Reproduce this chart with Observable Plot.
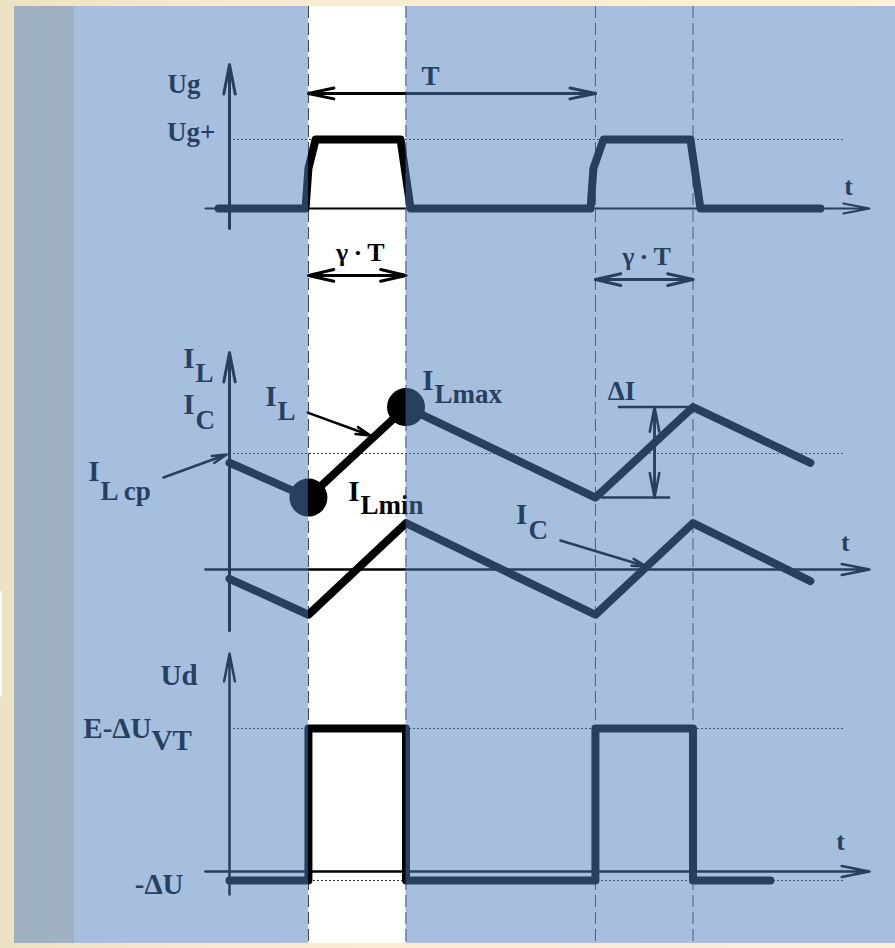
<!DOCTYPE html>
<html><head><meta charset="utf-8">
<script src="https://cdn.jsdelivr.net/npm/d3@7"></script>
<script src="https://cdn.jsdelivr.net/npm/@observablehq/plot@0.6"></script>
<style>
html,body{margin:0;padding:0;}
body{width:895px;height:948px;overflow:hidden;background:linear-gradient(to right,#ede1c3 0%,#f7eacf 25%,#fdf0da 100%);}
#chart svg{display:block;}
</style></head><body><div id="chart"></div>
<script>
// ---- time axis: units of the switching period T ----
const T = 1;
const switchEdges = [0.275, 0.615, 1.275, 1.615];   // turn-on / turn-off instants
const onStart = 0.275, onEnd = 0.615;               // first conduction interval (γ·T)

// ---- gate voltage Ug (Ug+ = 1) ----
const ugTime  = [-0.038, 0.265, 0.275, 0.300, 0.596, 0.631, 1.258, 1.268, 1.303, 1.606, 1.641, 2.059];
const ugValue = [0, 0, 0.58, 1, 1, 0, 0, 0.58, 1, 1, 0, 0];

// ---- inductor current IL and capacitor current IC (IL cp = 1) ----
const iTime   = [0, 0.275, 0.615, 1.275, 1.615, 2.024];
const ilValue = [0.92, 0.62, 1.40, 0.62, 1.40, 0.92];
const icValue = [-0.08, -0.39, 0.40, -0.39, 0.40, -0.10];
const ilCp = 1, ilMax = 1.40, ilMin = 0.62;

// ---- diode voltage Ud (E-ΔUVT = 1) ----
const udTime  = [0, 0.275, 0.275, 0.615, 0.615, 1.275, 1.275, 1.615, 1.615, 1.885];
const udValue = [-0.063, -0.063, 1, 1, -0.063, -0.063, 1, 1, -0.063, -0.063];
const udHigh = 1, udLow = -0.063;

// ---- framing of the background ----
const panelLeft = -0.749, whiteLeft = -0.540, rightEdge = 2.3206, levelEnd = 2.146;
const axisStart = -0.084, axisEnd = 2.230;

const ugData = ugTime.map((t, i) => ({t, v: ugValue[i]}));
const ilData = iTime.map((t, i) => ({t, v: ilValue[i]}));
const icData = iTime.map((t, i) => ({t, v: icValue[i]}));
const udData = udTime.map((t, i) => ({t, v: udValue[i]}));

const FONT = "Liberation Serif, Times New Roman, serif";
const txt = (data, o = {}) => Plot.text(data, {x: "t", y: "v", text: "s", fontFamily: FONT, fontWeight: "bold", fill: "black", ...o});
const arr = (data, o = {}) => Plot.arrow(data, {x1: "a", x2: "b", y1: "ya", y2: "yb", stroke: "black", ...o});
const dbl = (a, b, y) => [{a, b, ya: y, yb: y}, {a: b, b: a, ya: y, yb: y}];
const dblV = (x, y1, y2) => [{a: x, b: x, ya: y1, yb: y2}, {a: x, b: x, ya: y2, yb: y1}];

function panel({height, marginTop = 0, marginBottom = 0, yRange, marks, sliver = null}) {
  return Plot.plot({
    width: 895, height, marginTop, marginBottom, marginLeft: 0, marginRight: 0,
    x: {domain: [0, T], range: [229, 516], axis: null},
    y: {domain: [0, 1], range: yRange, axis: null},
    style: {background: "transparent"},
    marks: [
      Plot.rect([{x1: whiteLeft, x2: rightEdge}], {x1: "x1", x2: "x2", fill: "white"}),
      Plot.ruleX(switchEdges, {stroke: "#3c3c3c", strokeWidth: 1, strokeDasharray: "12,5"}),
      ...marks,
      Plot.rect([{x1: panelLeft, x2: onStart}, {x1: onEnd, x2: rightEdge}],
        {x1: "x1", x2: "x2", fill: "rgb(78,127,190)", fillOpacity: 0.5}),
      ...(sliver ? [Plot.rect([{x1: -0.798, x2: -0.791, ...sliver}], {x1: "x1", x2: "x2", y1: "y1", y2: "y2", fill: "#f4fafc"})] : [])
    ]
  });
}

const levelStyle = {stroke: "#333", strokeWidth: 1, strokeDasharray: "2,2"};
const lineStyle = {x: "t", y: "v", stroke: "black", strokeWidth: 8, strokeLinejoin: "round", strokeLinecap: "round"};
const gammaT = "γ\u2009·\u2009T";

// ---------------- top: Ug ----------------
const ugPanel = panel({
  height: 300, marginTop: 6, yRange: [208, 139],
  marks: [
    Plot.ruleY([1], {x1: 0, x2: levelEnd, ...levelStyle}),
    arr([{a: axisStart, b: axisEnd, ya: 0, yb: 0}], {strokeWidth: 2, headLength: 20, headAngle: 22}),
    arr([{a: 0, b: 0, ya: -0.29, yb: 2.087}], {strokeWidth: 3, headLength: 15, headAngle: 22}),
    Plot.line(ugData, lineStyle),
    arr(dbl(onStart, onStart + T, 1.667), {strokeWidth: 3, headLength: 13, headAngle: 24}),
    arr(dbl(onStart, onEnd, -0.97), {strokeWidth: 3, headLength: 13, headAngle: 26}),
    arr(dbl(onStart + T, onEnd + T, -1.03), {strokeWidth: 3, headLength: 13, headAngle: 26}),
    txt([{t: -0.101, v: 1.80, s: "Ug"}, {t: -0.049, v: 1.10, s: "Ug+"}], {textAnchor: "end", fontSize: 27}),
    txt([{t: 0.700, v: 1.91, s: "T"}], {fontSize: 27}),
    txt([{t: 0.456, v: -0.64, s: gammaT}, {t: 1.453, v: -0.70, s: gammaT}], {fontSize: 26}),
    txt([{t: 2.157, v: 0.32, s: "t"}], {fontSize: 26})
  ]
});

// ---------------- middle: IL, IC ----------------
const mainI = [
  {t: -0.122, v: 1.82, s: "I"}, {t: -0.122, v: 1.42, s: "I"},
  {t: 0.164, v: 1.49, s: "I"}, {t: -0.453, v: 0.84, s: "I"},
  {t: 0.711, v: 1.63, s: "I"}, {t: 0.453, v: 0.67, s: "I"},
  {t: 1.038, v: 0.47, s: "I"}
];
const subI = [
  {t: -0.122, v: 1.69, s: "L"}, {t: -0.122, v: 1.29, s: "C"},
  {t: 0.164, v: 1.36, s: "L"}, {t: -0.453, v: 0.67, s: "L cp"},
  {t: 0.711, v: 1.51, s: "Lmax"}, {t: 0.453, v: 0.55, s: "Lmin"},
  {t: 1.038, v: 0.34, s: "C"}
];
const iPanel = panel({
  height: 340, yRange: [269, 153], sliver: {y1: -0.19, y2: -0.62},
  marks: [
    Plot.ruleY([ilCp], {x1: 0, x2: levelEnd, ...levelStyle}),
    arr([{a: axisStart, b: axisEnd, ya: 0, yb: 0}], {strokeWidth: 2.5, headLength: 17, headAngle: 22}),
    arr([{a: 0, b: 0, ya: -0.526, yb: 1.871}], {strokeWidth: 3, headLength: 15, headAngle: 22}),
    Plot.line(ilData, lineStyle),
    Plot.line(icData, lineStyle),
    Plot.dot([ilData[1], ilData[2]], {x: "t", y: "v", r: 19, fill: "black"}),
    Plot.ruleY([ilMax], {x1: 1.355, x2: 1.615, stroke: "black", strokeWidth: 2.5}),
    Plot.ruleY([ilMin], {x1: 1.296, x2: 1.537, stroke: "black", strokeWidth: 2.5}),
    arr(dblV(1.481, ilMax, ilMin), {strokeWidth: 2.5, headLength: 15, headAngle: 22}),
    arr([{a: 0.272, b: 0.491, ya: 1.353, yb: 1.155},
         {a: -0.230, b: -0.010, ya: 0.793, yb: 0.991},
         {a: 1.153, b: 1.453, ya: 0.25, yb: 0.026}], {strokeWidth: 2.5, headLength: 9, headAngle: 28}),
    txt(mainI, {textAnchor: "end", fontSize: 29}),
    txt(subI, {textAnchor: "start", dx: 1, fontSize: 27}),
    txt([{t: 1.366, v: 1.54, s: "ΔI"}], {fontSize: 27}),
    txt([{t: 2.146, v: 0.23, s: "t"}], {fontSize: 26})
  ]
});

// ---------------- bottom: Ud ----------------
const udPanel = panel({
  height: 308, marginBottom: 5, yRange: [231, 88], sliver: {y1: 1.62, y2: 1.22},
  marks: [
    Plot.ruleY([udHigh, udLow], {x1: 0, x2: levelEnd, ...levelStyle}),
    arr([{a: axisStart, b: axisEnd, ya: 0, yb: 0}], {strokeWidth: 2.5, headLength: 17, headAngle: 22}),
    arr([{a: 0, b: 0, ya: -0.161, yb: 1.524}], {strokeWidth: 2.5, headLength: 17, headAngle: 22}),
    Plot.line(udData, lineStyle),
    txt([{t: -0.111, v: 1.37, s: "Ud"}, {t: -0.160, v: -0.091, s: "-ΔU"}, {t: -0.272, v: 1.00, s: "E-ΔU"}],
        {textAnchor: "end", fontSize: 29}),
    txt([{t: -0.272, v: 0.916, s: "VT"}], {textAnchor: "start", dx: 0, fontSize: 29}),
    txt([{t: 2.129, v: 0.21, s: "t"}], {fontSize: 26})
  ]
});

document.getElementById("chart").append(ugPanel, iPanel, udPanel);
</script></body></html>
